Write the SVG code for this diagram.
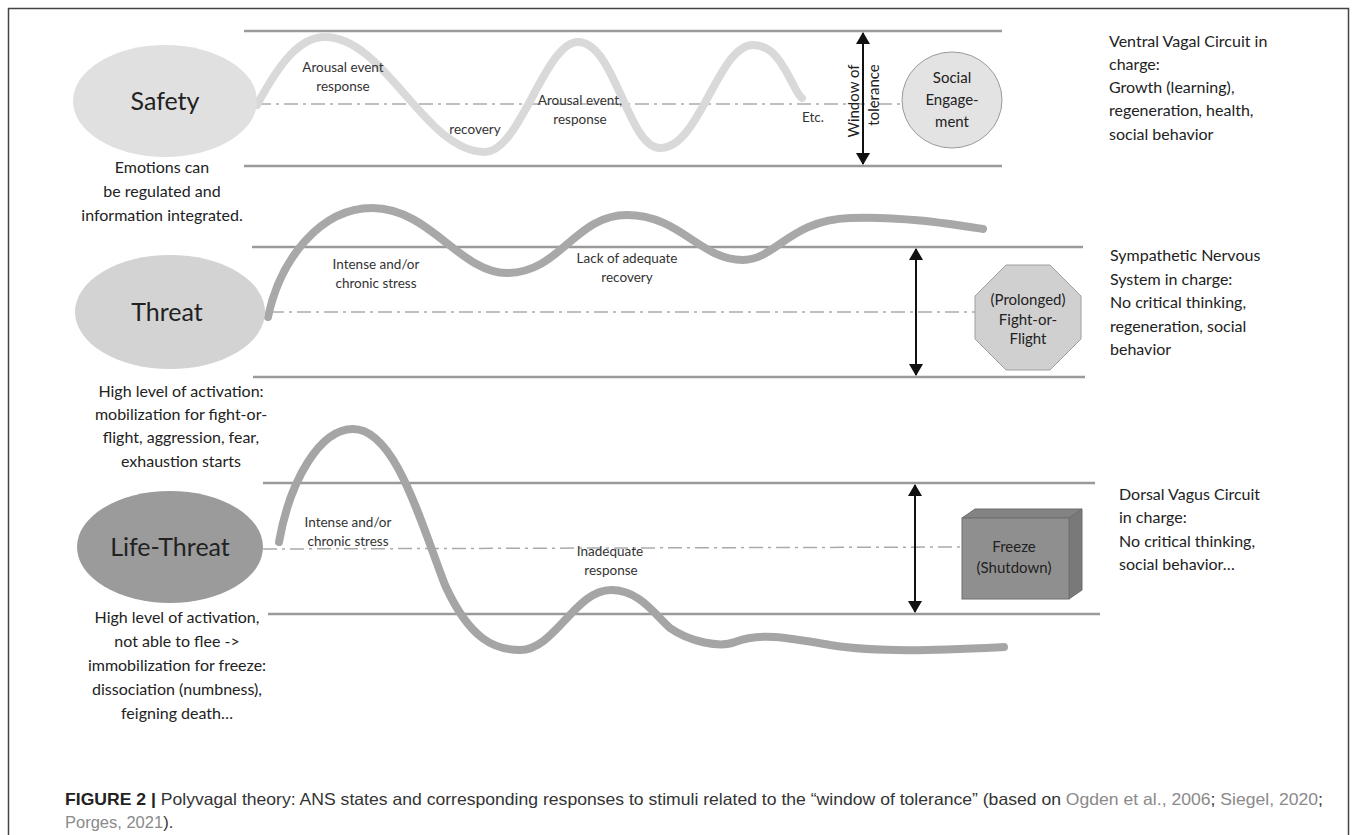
<svg xmlns="http://www.w3.org/2000/svg" width="1358" height="835" viewBox="0 0 1358 835">
<style>
.band{stroke:#9a9a9a;stroke-width:2.5;fill:none}
.dash{stroke:#aaaaaa;stroke-width:1.5;fill:none;stroke-dasharray:14 5 3 5}
.wave{fill:none;stroke-width:8;stroke-linecap:round;stroke-linejoin:round}
.t{font-family:Lato,"Noto Sans",sans-serif;fill:#222}
.big{font-size:25px;text-anchor:middle}
.side{font-size:16px}
.lft{font-size:16px;text-anchor:middle}
.lbl{font-size:13.5px;text-anchor:middle;fill:#333}
.nd{font-size:15px;text-anchor:middle;fill:#222}
.arr{stroke:#111;stroke-width:2;fill:none;marker-start:url(#ah);marker-end:url(#ah)}
.cap{font-family:"Liberation Sans",Arial,sans-serif;font-size:16.5px;fill:#333}
.lnk{fill:#8a8a8a}
</style>
<defs>
<marker id="ah" viewBox="0 0 12 14" refX="11" refY="7" markerWidth="12" markerHeight="14" markerUnits="userSpaceOnUse" orient="auto-start-reverse">
<path d="M0,0 L12,7 L0,14 Z" fill="#111"/>
</marker>
</defs>
<rect x="0" y="0" width="1358" height="835" fill="#ffffff"/>
<rect x="8.5" y="8.5" width="1340" height="840" fill="none" stroke="#444" stroke-width="1.5"/>

<g id="bands">
<line class="band" x1="244" y1="31" x2="1002" y2="31"/>
<line class="band" x1="244" y1="166" x2="1002" y2="166"/>
<line class="band" x1="252" y1="247" x2="1083" y2="247"/>
<line class="band" x1="253" y1="377" x2="1085" y2="377"/>
<line class="band" x1="263" y1="483" x2="1095" y2="483"/>
<line class="band" x1="268" y1="614" x2="1100" y2="614"/>
<line class="dash" x1="257" y1="104" x2="902" y2="104"/>
<line class="dash" x1="270" y1="312" x2="975" y2="312"/>
<line class="dash" x1="263" y1="549" x2="962" y2="547"/>
</g>

<g id="waves">
<path class="wave" stroke="#d9d9d9" d="M257,105 C280,62 300,37 325,37 C385,37 425,152 485,152 C520,152 545,42 578,42 C615,42 628,148 660,148 C700,148 718,45 753,45 C776,45 786,72 794,86 C797,92 799,96 802,98"/>
<path class="wave" stroke="#a8a8a8" d="M268,317 C280,260 320,208 372,208 C430,208 460,273 507,273 C560,273 575,215 627,215 C680,215 700,260 743,260 C775,260 790,220 850,218 C900,216 950,224 983,229"/>
<path class="wave" stroke="#a5a5a5" d="M279,542 C290,480 320,429 353,429 C395,429 420,520 445,585 C470,640 495,650 520,650 C555,650 575,590 611,590 C640,590 655,615 670,628 C690,642 720,648 735,642 C760,632 790,638 830,645 C880,653 940,650 1004,647"/>
</g>

<g id="wave-labels">
<text class="t lbl" x="343" y="72">Arousal event</text>
<text class="t lbl" x="343" y="91">response</text>
<text class="t lbl" x="475" y="134">recovery</text>
<text class="t lbl" x="580" y="105">Arousal event,</text>
<text class="t lbl" x="580" y="124">response</text>
<text class="t lbl" x="813" y="122">Etc.</text>
<text class="t lbl" x="376" y="269">Intense and/or</text>
<text class="t lbl" x="376" y="288">chronic stress</text>
<text class="t lbl" x="627" y="263">Lack of adequate</text>
<text class="t lbl" x="627" y="282">recovery</text>
<text class="t lbl" x="348" y="527">Intense and/or</text>
<text class="t lbl" x="348" y="546">chronic stress</text>
<text class="t lbl" x="610" y="556">Inadequate</text>
<text class="t lbl" x="611" y="575">response</text>
</g>

<g id="connectors">
<line class="arr" x1="863" y1="33" x2="863" y2="164"/>
<line class="arr" x1="916" y1="249" x2="916" y2="375"/>
<line class="arr" x1="915" y1="485" x2="915" y2="612"/>
</g>

<g id="window-label">
<text class="t" font-size="15" text-anchor="middle" transform="translate(859,101) rotate(-90)">Window of</text>
<text class="t" font-size="15" text-anchor="middle" transform="translate(879,95) rotate(-90)">tolerance</text>
</g>

<g id="safety">
<ellipse cx="165" cy="101" rx="92" ry="56" fill="#e0e0e0"/>
<text class="t big" x="165" y="110">Safety</text>
</g>
<g id="threat">
<ellipse cx="170" cy="312" rx="95" ry="57" fill="#d3d3d3"/>
<text class="t big" x="167" y="321">Threat</text>
</g>
<g id="life-threat">
<ellipse cx="170" cy="547" rx="93" ry="56" fill="#9b9b9b"/>
<text class="t big" x="170" y="556">Life-Threat</text>
</g>

<g id="social-engagement">
<ellipse cx="952" cy="100" rx="50" ry="48" fill="#e3e3e3" stroke="#9a9a9a" stroke-width="1"/>
<text class="t nd" x="952" y="83">Social</text>
<text class="t nd" x="952" y="105">Engage-</text>
<text class="t nd" x="952" y="127">ment</text>
</g>

<g id="fight-or-flight">
<polygon points="1006,265 1050,265 1081,296 1081,339 1050,370 1006,370 975,339 975,296" fill="#d0d0d0" stroke="#a0a0a0" stroke-width="1"/>
<text class="t nd" x="1028" y="305">(Prolonged)</text>
<text class="t nd" x="1028" y="325">Fight-or-</text>
<text class="t nd" x="1028" y="344">Flight</text>
</g>

<g id="freeze">
<polygon points="962,518 975,509 1082,509 1069,518" fill="#838383" stroke="#6f6f6f" stroke-width="1"/>
<polygon points="1069,518 1082,509 1082,590 1069,599" fill="#797979" stroke="#6f6f6f" stroke-width="1"/>
<rect x="962" y="518" width="107" height="81" fill="#8f8f8f" stroke="#6f6f6f" stroke-width="1"/>
<text class="t nd" x="1014" y="552">Freeze</text>
<text class="t nd" x="1014" y="573">(Shutdown)</text>
</g>

<g id="left-texts">
<text class="t lft" x="162" y="173">Emotions can</text>
<text class="t lft" x="162" y="197">be regulated and</text>
<text class="t lft" x="162" y="221">information integrated.</text>
<text class="t lft" x="181" y="397">High level of activation:</text>
<text class="t lft" x="181" y="420">mobilization for fight-or-</text>
<text class="t lft" x="181" y="443">flight, aggression, fear,</text>
<text class="t lft" x="181" y="467">exhaustion starts</text>
<text class="t lft" x="177" y="623">High level of activation,</text>
<text class="t lft" x="177" y="647">not able to flee -&gt;</text>
<text class="t lft" x="177" y="671">immobilization for freeze:</text>
<text class="t lft" x="177" y="695">dissociation (numbness),</text>
<text class="t lft" x="177" y="719">feigning death…</text>
</g>

<g id="right-texts">
<text class="t side" x="1109" y="47">Ventral Vagal Circuit in</text>
<text class="t side" x="1109" y="70">charge:</text>
<text class="t side" x="1109" y="93">Growth (learning),</text>
<text class="t side" x="1109" y="116">regeneration, health,</text>
<text class="t side" x="1109" y="140">social behavior</text>
<text class="t side" x="1110" y="261">Sympathetic Nervous</text>
<text class="t side" x="1110" y="285">System in charge:</text>
<text class="t side" x="1110" y="308">No critical thinking,</text>
<text class="t side" x="1110" y="332">regeneration, social</text>
<text class="t side" x="1110" y="355">behavior</text>
<text class="t side" x="1119" y="500">Dorsal Vagus Circuit</text>
<text class="t side" x="1119" y="523">in charge:</text>
<text class="t side" x="1119" y="547">No critical thinking,</text>
<text class="t side" x="1119" y="570">social behavior…</text>
</g>

<g id="caption">
<text class="cap" x="65" y="805" textLength="1258" lengthAdjust="spacingAndGlyphs"><tspan font-weight="bold" fill="#222">FIGURE 2 |</tspan> Polyvagal theory: ANS states and corresponding responses to stimuli related to the “window of tolerance” (based on <tspan class="lnk">Ogden et al., 2006</tspan>; <tspan class="lnk">Siegel, 2020</tspan>;</text>
<text class="cap" x="65" y="828"><tspan class="lnk">Porges, 2021</tspan>).</text>
</g>
</svg>
